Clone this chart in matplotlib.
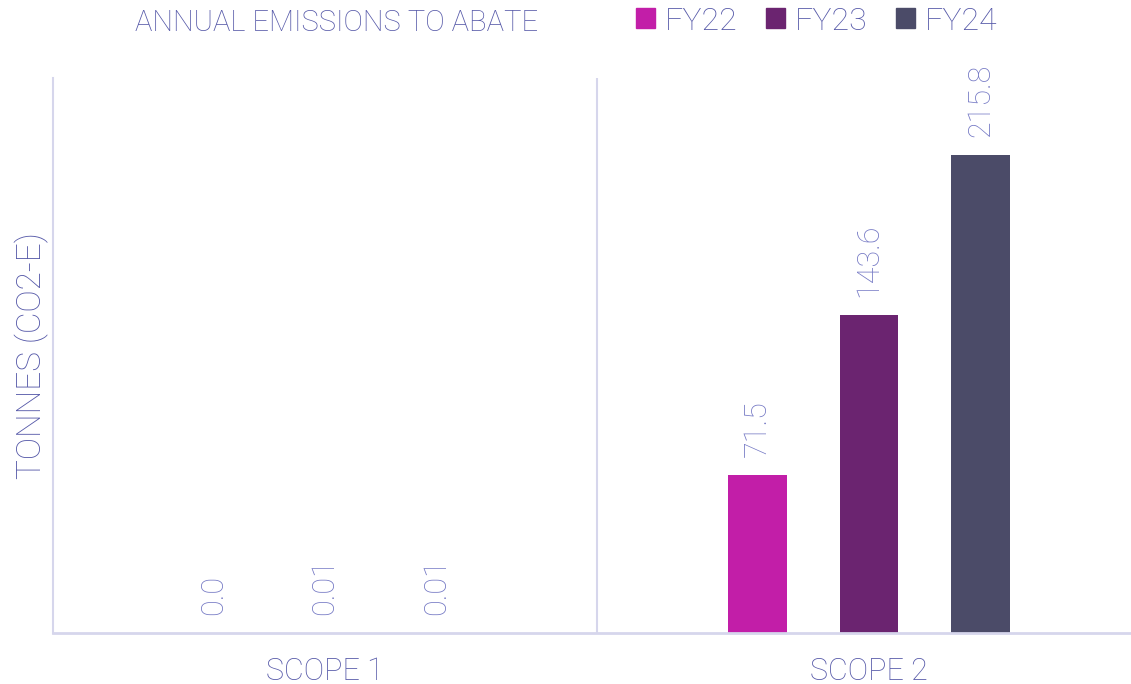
import numpy as np
import matplotlib
matplotlib.use("Agg")
from matplotlib import pyplot as plt
from matplotlib.patches import Patch

# dane z wykresu
categories = ["SCOPE 1", "SCOPE 2"]
years = ["FY22", "FY23", "FY24"]
fy22 = [0.0, 71.5]
fy23 = [0.01, 143.6]
fy24 = [0.01, 215.8]
value_labels = [["0.0", "71.5"], ["0.01", "143.6"], ["0.01", "215.8"]]
colors = ["#c21ea8", "#6b2470", "#4b4b68"]

text_col = "#7478c4"
title_col = "#5558a8"
line_col = "#d6d6ec"

plt.rcParams["font.family"] = ["Roboto", "DejaVu Sans"]
wt = "light"

fig = plt.figure(figsize=(11.31, 6.84), dpi=100)
ax = fig.add_axes([53 / 1131, 51 / 684, 1078 / 1131, 555 / 684])

x = np.arange(len(categories))
width = 0.108
step = 0.205
series = [fy22, fy23, fy24]
for i, vals in enumerate(series):
    pos = x + (i - 1) * step
    bars = ax.bar(pos, vals, width, color=colors[i], label=years[i])
    for b, lab in zip(bars, value_labels[i]):
        ax.annotate(lab, (b.get_x() + b.get_width() / 2, b.get_height()),
                    xytext=(0, 13), textcoords="offset points",
                    ha="center", va="bottom", rotation=90,
                    fontsize=22, fontweight=wt, color=text_col)

ax.set_xlim(-0.5, -0.5 + 1078 / 544)
ax.set_ylim(0, 250.5)

for s in ["top", "right"]:
    ax.spines[s].set_visible(False)
ax.spines["left"].set_color(line_col)
ax.spines["bottom"].set_color(line_col)
ax.spines["left"].set_linewidth(1.5)
ax.spines["bottom"].set_linewidth(2)
ax.axvline(0.5, color=line_col, lw=1.5)

ax.set_yticks([])
ax.set_xticks(x)
ax.set_xticklabels(categories, fontsize=22, fontweight=wt, color=title_col)
ax.tick_params(axis="x", length=0, pad=17)
ax.set_ylabel("TONNES (CO2-E)", fontsize=24, fontweight=wt,
              color=title_col, labelpad=3)

fig.text(135 / 1131, 1 - 23 / 684, "ANNUAL EMISSIONS TO ABATE",
         fontsize=21, fontweight=wt, color=title_col, va="center")

handles = [Patch(color=c) for c in colors]
fig.legend(handles, years, loc="center left",
           bbox_to_anchor=(607 / 1131, 1 - 21 / 684), ncol=3, frameon=False,
           handlelength=0.6, handleheight=0.6,
           handletextpad=0.3, columnspacing=0.9, labelcolor=title_col,
           prop={"size": 23, "weight": wt})

plt.savefig("out.png", dpi=100)
